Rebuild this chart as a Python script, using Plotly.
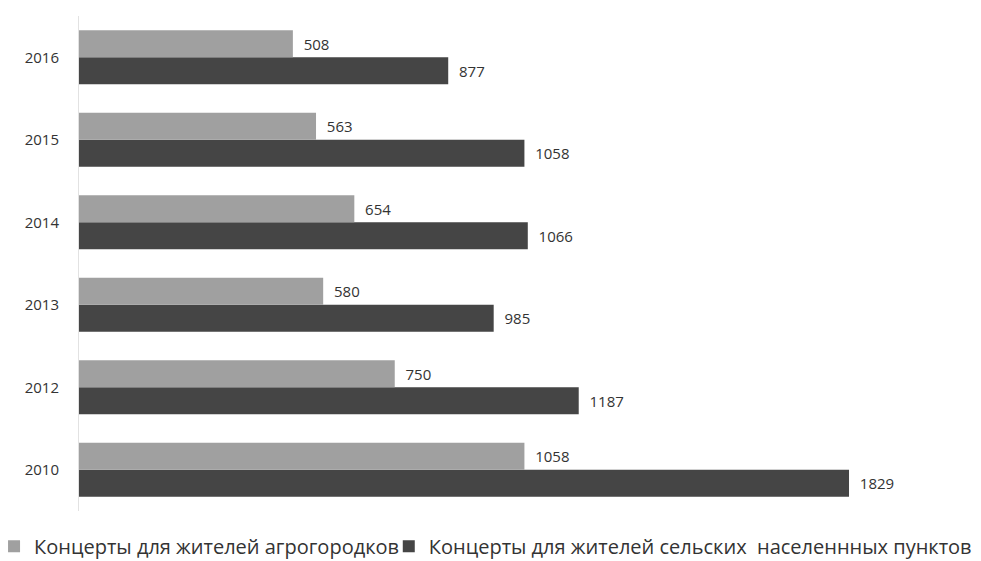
import plotly.graph_objects as go

years = ["2010", "2012", "2013", "2014", "2015", "2016"]
agro = [1058, 750, 580, 654, 563, 508]
rural = [1829, 1187, 985, 1066, 1058, 877]
names = ["Концерты для жителей агрогородков",
         "Концерты для жителей сельских  населеннных пунктов"]

FONT = "Open Sans, Liberation Sans, sans-serif"
NB = "\u00a0" * 2
fig = go.Figure()
fig.add_trace(go.Bar(
    y=years, x=rural, orientation="h", name=names[1], legend="legend2",
    marker=dict(color="#454545", line=dict(width=0)),
    text=[NB + str(v) for v in rural], textposition="outside",
    textfont=dict(size=15, color="#333333", family=FONT),
    cliponaxis=False,
))
fig.add_trace(go.Bar(
    y=years, x=agro, orientation="h", name=names[0], legend="legend",
    marker=dict(color="#a0a0a0", line=dict(width=0)),
    text=[NB + str(v) for v in agro], textposition="outside",
    textfont=dict(size=15, color="#333333", family=FONT),
    cliponaxis=False,
))

leg_common = dict(orientation="h", yref="paper", y=-0.071, yanchor="middle",
                  font=dict(size=20, color="#333333", family=FONT),
                  itemsizing="constant", bgcolor="rgba(0,0,0,0)", borderwidth=0)

fig.update_layout(
    width=973, height=553,
    barmode="group", bargap=0.346, bargroupgap=0,
    plot_bgcolor="white", paper_bgcolor="white",
    margin=dict(l=71, r=60, t=8, b=50, autoexpand=False),
    font=dict(family=FONT, color="#333333"),
    xaxis=dict(range=[0, 2000], showgrid=False, showticklabels=False, zeroline=False,
               showline=False, fixedrange=True, automargin=False),
    yaxis=dict(type="category", categoryorder="array", categoryarray=years,
               showgrid=False, zeroline=False, showline=True, linecolor="#e2e2e2", linewidth=1,
               ticks="", tickfont=dict(size=15, color="#333333", family=FONT), ticklabelstandoff=16,
               range=[-0.5, 5.5], automargin=False),
    legend=dict(x=-0.1009, xanchor="left", **leg_common),
    legend2=dict(x=0.3679, xanchor="left", **leg_common),
    showlegend=True,
)
fig.write_html("out.html")
